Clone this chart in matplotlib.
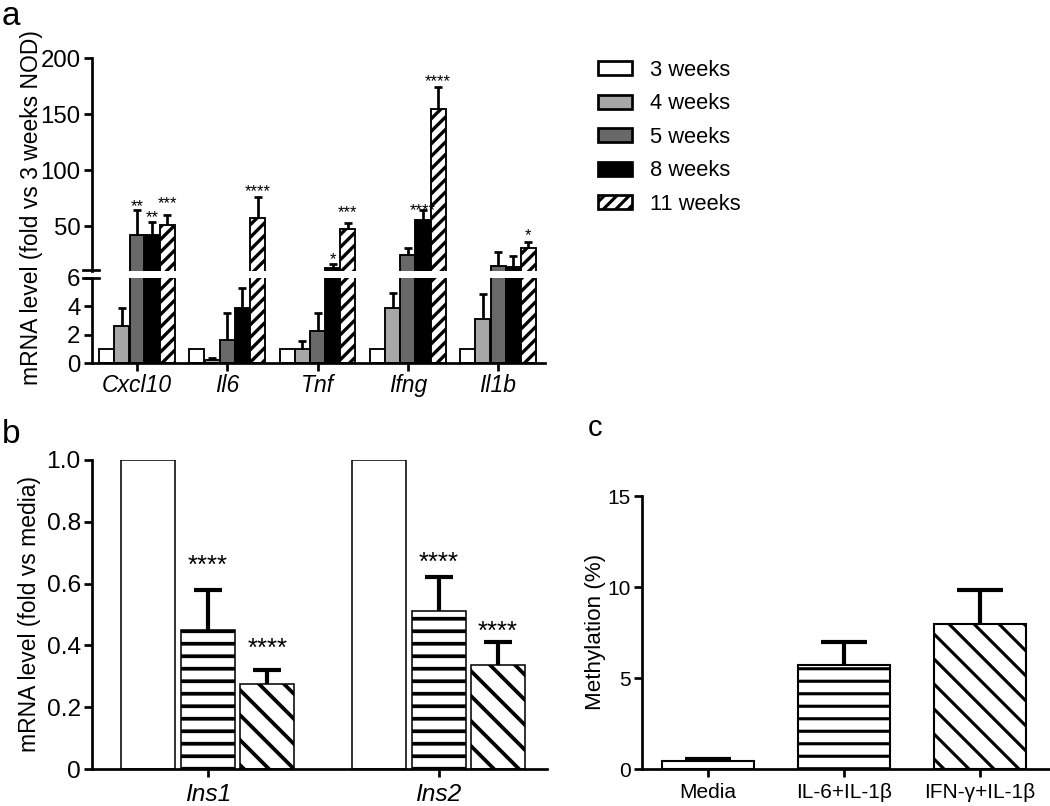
import matplotlib
matplotlib.use('Agg')
import matplotlib.pyplot as plt
import numpy as np
from matplotlib.lines import Line2D

plt.rcParams['font.family'] = ['Liberation Sans', 'DejaVu Sans']
plt.rcParams['hatch.linewidth'] = 3.0
plt.rcParams['axes.linewidth'] = 2.6

W, H, DPI = 1050, 806, 75

# ---- panel a: cytokine mRNA by age (fold vs 3 weeks NOD) ----
genes = ['Cxcl10', 'Il6', 'Tnf', 'Ifng', 'Il1b']
ages = ['3 weeks', '4 weeks', '5 weeks', '8 weeks', '11 weeks']
mean_3wk = [1.0, 1.0, 1.0, 1.0, 1.0]
mean_4wk = [2.65, 0.2, 1.0, 3.9, 3.1]
mean_5wk = [42.5, 1.65, 2.3, 24.2, 14.7]
mean_8wk = [42.5, 3.9, 12.4, 55.6, 13.3]
mean_11wk = [51.0, 57.7, 47.3, 154.6, 30.4]
err_3wk = [0, 0, 0, 0, 0]
err_4wk = [1.25, 0.15, 0.6, 1.07, 1.75]
err_5wk = [22.0, 1.92, 1.27, 6.5, 12.5]
err_8wk = [11.5, 1.37, 3.8, 8.9, 9.7]
err_11wk = [9.0, 18.3, 5.4, 19.4, 5.6]
# significance marks: (gene index, age index, label, y)
stars_a = [(0, 2, '**', 72.5), (0, 3, '**', 62), (0, 4, '***', 75),
           (1, 4, '****', 86), (2, 3, '*', 25), (2, 4, '***', 67),
           (3, 3, '****', 69), (3, 4, '****', 184), (4, 4, '*', 46)]

# ---- panel b: insulin mRNA (fold vs media) ----
ins_genes = ['Ins1', 'Ins2']
ins_media = [1.0, 1.0]
ins_il6 = [0.45, 0.51]
ins_ifn = [0.275, 0.335]
ins_il6_err = [0.13, 0.11]
ins_ifn_err = [0.045, 0.075]
ins_il6_star = [0.685, 0.694]
ins_ifn_star = [0.415, 0.471]

# ---- panel c: methylation ----
treatments = ['Media', 'IL-6+IL-1\u03b2', 'IFN-\u03b3+IL-1\u03b2']
meth = [0.46, 5.75, 7.97]
meth_err = [0.13, 1.25, 1.87]


def box(l, t, r, b):
    return [l / W, 1 - b / H, (r - l) / W, (b - t) / H]


def style(ax, fs):
    for s in ('top', 'right'):
        ax.spines[s].set_visible(False)
    ax.tick_params(direction='out', length=7.5, width=2.6, labelsize=fs,
                   pad=3, colors='black')


def stars(ax, x, y, s, fs):
    # centre the asterisk ink on (x, y)
    ax.annotate(s, xy=(x, y), xytext=(0, -0.59 * fs), textcoords='offset points',
                ha='center', va='baseline', fontsize=fs, annotation_clip=False)


def tidy(bc, lw):
    # hatch width, and only the upper cap of the error bar (GraphPad style)
    for p in bc:
        if hasattr(p, 'set_hatch_linewidth'):
            p.set_hatch_linewidth(lw)
    if bc.errorbar is not None:
        caps = bc.errorbar.lines[1]
        if len(caps) == 2:
            caps[0].set_visible(False)


fig = plt.figure(figsize=(W / DPI, H / DPI), dpi=DPI)
fig.patch.set_facecolor('white')

# ---------------- panel a (broken axis) ----------------
ax_up = fig.add_axes(box(91.5, 58.3, 545, 271))
ax_lo = fig.add_axes(box(91.5, 278, 545, 363.3))

means = [mean_3wk, mean_4wk, mean_5wk, mean_8wk, mean_11wk]
errs = [err_3wk, err_4wk, err_5wk, err_8wk, err_11wk]
fills = ['white', '#a7a7a8', '#686868', 'black', 'white']
hatches = [None, None, None, None, '//']
x = np.arange(len(genes))
step, bw = 0.168, 0.166
offs = (np.arange(len(ages)) - 2) * step

handles = []
for ax in (ax_up, ax_lo):
    for i in range(len(ages)):
        e = np.array(errs[i], dtype=float)
        yerr = None if not e.any() else [np.zeros_like(e), e]
        bc = ax.bar(x + offs[i], means[i], bw, color=fills[i], edgecolor='black',
                    linewidth=1.8, hatch=hatches[i], yerr=yerr, capsize=3.5,
                    error_kw=dict(elinewidth=2.6, capthick=2.6, ecolor='black'))
        tidy(bc, 3.2)
        if ax is ax_lo:
            handles.append(bc)
    ax.set_xlim(-0.504, 4.52)
    style(ax, 23)

ax_up.set_ylim(10, 200)
ax_up.set_yticks([50, 100, 150, 200])
ax_up.spines['bottom'].set_visible(False)
ax_up.tick_params(axis='x', bottom=False, labelbottom=False)
ax_lo.set_ylim(0, 6)
ax_lo.set_yticks([0, 2, 4, 6])
ax_lo.set_xticks(x)
ax_lo.set_xticklabels(genes, fontsize=22, style='italic')

for gi, ai, s, yv in stars_a:
    stars(ax_up, x[gi] + offs[ai], yv, s, 16)

# break marks on the y axis
for yb in (269.5, 278.3):
    fig.add_artist(Line2D([83 / W, 99 / W], [1 - yb / H] * 2, transform=fig.transFigure,
                          color='black', lw=2.6))

fig.text(32 / W, 1 - 208 / H, 'mRNA level (fold vs 3 weeks NOD)', rotation=90,
         ha='center', va='center', fontsize=22)

leg = fig.legend(handles, ages, loc='upper left', bbox_to_anchor=(598 / W, 1 - 60 / H),
                 frameon=False, fontsize=21, handlelength=1.55, handleheight=0.62,
                 handletextpad=0.85, labelspacing=0.57, borderpad=0, borderaxespad=0)
for p in leg.get_patches():
    p.set_linewidth(2.6)

# ---------------- panel b ----------------
ax_b = fig.add_axes(box(91.7, 460, 547, 769))
xb = np.arange(len(ins_genes))
wb, ob = 0.234, 0.258
ax_b.bar(xb - ob, ins_media, wb, color='white', edgecolor='black', linewidth=1.5)
bc = ax_b.bar(xb, ins_il6, wb, color='white', edgecolor='black', linewidth=1.5, hatch='-',
              yerr=[np.zeros(2), ins_il6_err], capsize=13,
              error_kw=dict(elinewidth=4, capthick=4, ecolor='black'))
tidy(bc, 3.6)
bc = ax_b.bar(xb + ob, ins_ifn, wb, color='white', edgecolor='black', linewidth=1.5, hatch='\\',
              yerr=[np.zeros(2), ins_ifn_err], capsize=13,
              error_kw=dict(elinewidth=4, capthick=4, ecolor='black'))
tidy(bc, 3.6)
for i in range(len(ins_genes)):
    stars(ax_b, xb[i], ins_il6_star[i], '****', 25)
    stars(ax_b, xb[i] + ob, ins_ifn_star[i], '****', 25)
ax_b.set_xlim(-0.503, 1.47)
ax_b.set_ylim(0, 1.0)
ax_b.set_yticks([0, 0.2, 0.4, 0.6, 0.8, 1.0])
ax_b.set_yticklabels(['0', '0.2', '0.4', '0.6', '0.8', '1.0'])
ax_b.set_xticks(xb)
ax_b.set_xticklabels(ins_genes, fontsize=22, style='italic')
style(ax_b, 23.5)
ax_b.tick_params(axis='x', pad=6)
fig.text(30 / W, 1 - 614 / H, 'mRNA level (fold vs media)', rotation=90,
         ha='center', va='center', fontsize=22)

# ---------------- panel c ----------------
ax_c = fig.add_axes(box(641.7, 496, 1050, 769.3))
xc = np.arange(len(treatments))
bc = ax_c.bar(xc, meth, 0.67, color='white', edgecolor='black', linewidth=2,
              hatch=[None, '-', '\\'], yerr=[np.zeros(3), meth_err], capsize=22,
              error_kw=dict(elinewidth=4, capthick=4, ecolor='black'))
tidy(bc, 3.0)
ax_c.set_xlim(-0.4875, 2.515)
ax_c.set_ylim(0, 15)
ax_c.set_yticks([0, 5, 10, 15])
ax_c.set_xticks(xc)
ax_c.set_xticklabels(treatments, fontsize=19.5)
style(ax_c, 20)
ax_c.tick_params(axis='x', pad=6)
fig.text(595 / W, 1 - 632 / H, 'Methylation (%)', rotation=90,
         ha='center', va='center', fontsize=21.5)

# panel letters
fig.text(2 / W, 1 - 1 / H, 'a', fontsize=32, va='top')
fig.text(2 / W, 1 - 443 / H, 'b', fontsize=32, va='baseline')
fig.text(588 / W, 1 - 436 / H, 'c', fontsize=28, va='baseline')

fig.savefig('out.png', dpi=DPI)
